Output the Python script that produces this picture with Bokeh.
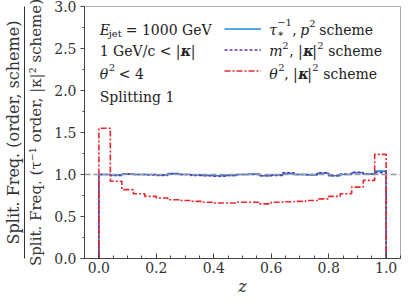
import numpy as np
from bokeh.plotting import figure
from bokeh.models import (Label, Span, Legend, LegendItem, FixedTicker,
                          LinearAxis, CustomJSTickFormatter)
from bokeh.embed import file_html
from bokeh.resources import INLINE

# ---------------- data ----------------
z_edges = [0.00, 0.04, 0.08, 0.12, 0.16, 0.20, 0.24, 0.28, 0.32, 0.36, 0.40,
           0.44, 0.48, 0.52, 0.56, 0.60, 0.64, 0.68, 0.72, 0.76, 0.80,
           0.84, 0.88, 0.92, 0.96, 1.00]
tau_p2 = [1.00, 0.995, 1.005, 1.00, 1.00, 0.995, 1.01, 1.00, 0.995, 0.99,
          0.985, 0.99, 1.00, 1.005, 0.985, 0.995, 1.01, 1.00, 0.995, 1.015,
          0.985, 1.00, 1.02, 1.005, 1.04]
m2_k2 = [1.00, 0.99, 1.005, 1.00, 0.995, 0.99, 1.005, 1.00, 0.99, 0.985,
         0.98, 0.99, 1.00, 1.00, 0.985, 0.99, 1.02, 1.00, 1.00, 1.02,
         0.985, 1.005, 1.025, 1.005, 1.02]
theta2_k2 = [1.55, 0.92, 0.82, 0.77, 0.74, 0.72, 0.70, 0.69, 0.68, 0.67,
             0.66, 0.66, 0.67, 0.67, 0.65, 0.67, 0.675, 0.68, 0.69, 0.71,
             0.74, 0.77, 0.85, 0.93, 1.24]
x_ticks = [0.0, 0.2, 0.4, 0.6, 0.8, 1.0]
y_ticks = [0.0, 0.5, 1.0, 1.5, 2.0, 2.5, 3.0]
y_num_label = "Split. Freq. (order, scheme)"
y_den_label = "Split. Freq. (τ⁻¹ order, |κ|² scheme)"

FONT = "DejaVu Serif"
TXT = "#222222"
C_BLUE = "#1E88E5"
C_PURP = "#5E35B1"
C_RED = "#E8282B"

def step_path(edges, vals):
    e = np.asarray(edges)
    v = np.asarray(vals)
    xs = np.repeat(e, 2)
    ys = np.concatenate([[0.0], np.repeat(v, 2), [0.0]])
    return xs, ys

p = figure(width=403, height=298, x_range=(-0.05, 1.05), y_range=(0, 3),
           output_backend="svg", toolbar_location=None,
           min_border_left=80, min_border_right=3, min_border_top=6,
           min_border_bottom=0)
p.grid.visible = False
p.background_fill_color = "white"
p.outline_line_color = "#aaaaaa"
p.outline_line_width = 1

# axes
p.xaxis.ticker = FixedTicker(ticks=x_ticks,
                             minor_ticks=[i * 0.05 for i in range(-1, 22)])
p.yaxis.ticker = FixedTicker(ticks=y_ticks,
                             minor_ticks=[i * 0.25 for i in range(0, 13)])
p.xaxis.formatter = CustomJSTickFormatter(code="return tick.toFixed(1);")
p.yaxis.formatter = CustomJSTickFormatter(code="return tick.toFixed(1);")
for ax in (p.xaxis, p.yaxis):
    ax.axis_line_color = "#444444"
    ax.major_tick_line_color = "#444444"
    ax.minor_tick_line_color = "#444444"
    ax.major_label_text_font = FONT
    ax.major_label_text_font_size = "14px"
    ax.major_label_text_color = "#333333"
    ax.axis_label_text_font = FONT
    ax.axis_label_text_color = "#333333"
p.xaxis.major_tick_in = 5
p.xaxis.major_tick_out = 0
p.xaxis.minor_tick_in = 3
p.xaxis.minor_tick_out = 0
p.xaxis.major_label_standoff = 3
p.xaxis.major_label_text_line_height = 0.9
p.xaxis.axis_label = "z"
p.xaxis.axis_label_text_font_style = "italic"
p.xaxis.axis_label_text_font_size = "16px"
p.xaxis.axis_label_text_line_height = 0.9
p.xaxis.axis_label_standoff = 1
p.yaxis.major_tick_out = 4
p.yaxis.major_tick_in = 0
p.yaxis.minor_tick_out = 2
p.yaxis.minor_tick_in = 0
p.yaxis.major_label_standoff = 4
p.yaxis.axis_label = y_den_label
p.yaxis.axis_label_text_font_size = "15px"
p.yaxis.axis_label_text_font_style = "normal"
p.yaxis.axis_label_standoff = 6

# fraction bar: an extra left axis showing only its line
bar_ax = LinearAxis(ticker=FixedTicker(ticks=[]), axis_line_color="#333333",
                    axis_line_width=1, major_tick_out=0, major_tick_in=0,
                    minor_tick_out=0, minor_tick_in=0,
                    major_label_text_font_size="0px", major_label_standoff=0)
p.add_layout(bar_ax, "left")
# numerator: another extra left axis showing only its label
num_ax = LinearAxis(ticker=FixedTicker(ticks=[]), axis_line_color=None,
                    major_tick_out=0, major_tick_in=0, minor_tick_out=0,
                    minor_tick_in=0, major_label_text_font_size="0px",
                    major_label_standoff=0, axis_label=y_num_label,
                    axis_label_text_font=FONT, axis_label_text_font_size="16px",
                    axis_label_text_color="#333333",
                    axis_label_text_font_style="normal",
                    axis_label_standoff=2)
p.add_layout(num_ax, "left")

# reference line
p.add_layout(Span(location=1.0, dimension="width", line_color="#999999",
                  line_dash="6 3", line_width=1.5))

# histograms
xs, ys = step_path(z_edges, tau_p2)
r_blue = p.line(xs, ys, line_color=C_BLUE, line_width=1.6)
xs, ys = step_path(z_edges, m2_k2)
r_purp = p.line(xs, ys, line_color=C_PURP, line_width=1.6, line_dash="3 2")
xs, ys = step_path(z_edges, theta2_k2)
r_red = p.line(xs, ys, line_color=C_RED, line_width=1.6, line_dash="6 2 2 2")

# legend (samples only; rich labels drawn separately)
leg = Legend(items=[LegendItem(label=" ", renderers=[r_blue]),
                    LegendItem(label=" ", renderers=[r_purp]),
                    LegendItem(label=" ", renderers=[r_red])],
             location=(140, 177), glyph_width=37, glyph_height=21,
             label_height=21, label_width=1, spacing=0, padding=0, margin=0,
             border_line_color=None, background_fill_alpha=0,
             label_text_font_size="4px", label_standoff=0)
p.add_layout(leg)

def rich(x, y, pieces):
    for txt, dx, dy, size, style in pieces:
        p.add_layout(Label(x=x, y=y, x_offset=dx, y_offset=dy, text=txt,
                           text_font=FONT, text_font_size=f"{size}px",
                           text_font_style=style, text_color=TXT,
                           text_baseline="alphabetic", text_align="left"))

# annotation block (left)
xl = 0.003
rich(xl, 2.722, [("E", 0, 0, 14, "italic"), ("jet", 9, -4, 10, "normal"),
                 ("= 1000 GeV", 26, 0, 14, "normal")])
rich(xl, 2.468, [("1 GeV/c < |", 0, 0, 14, "normal"),
                 ("κ", 81, 0, 14, "bold italic"), ("|", 91, 0, 14, "normal")])
rich(xl, 2.202, [("θ", 0, 0, 14, "italic"), ("2", 9, 6, 10, "normal"),
                 ("< 4", 19, 0, 14, "normal")])
rich(xl, 1.923, [("Splitting 1", 0, 0, 14, "normal")])

# legend labels
xg = 0.593
rich(xg, 2.722, [("τ", 0, 0, 14, "italic"), ("−1", 8, 7, 10, "normal"),
                 ("∗", 8, -4, 10, "normal"), (",", 23, 0, 14, "normal"),
                 ("p", 31, 0, 14, "italic"), ("2", 40, 6, 10, "normal"),
                 ("scheme", 50, 0, 14, "normal")])
rich(xg, 2.468, [("m", 0, 0, 14, "italic"), ("2", 13, 6, 10, "normal"),
                 (", |", 20, 0, 14, "normal"), ("κ", 34, 0, 14, "bold italic"),
                 ("|", 43, 0, 14, "normal"), ("2", 48, 6, 10, "normal"),
                 ("scheme", 59, 0, 14, "normal")])
rich(xg, 2.202, [("θ", 0, 0, 14, "italic"), ("2", 9, 6, 10, "normal"),
                 (", |", 15, 0, 14, "normal"), ("κ", 29, 0, 14, "bold italic"),
                 ("|", 38, 0, 14, "normal"), ("2", 43, 6, 10, "normal"),
                 ("scheme", 54, 0, 14, "normal")])

open("out.html", "w").write(file_html(p, INLINE))
